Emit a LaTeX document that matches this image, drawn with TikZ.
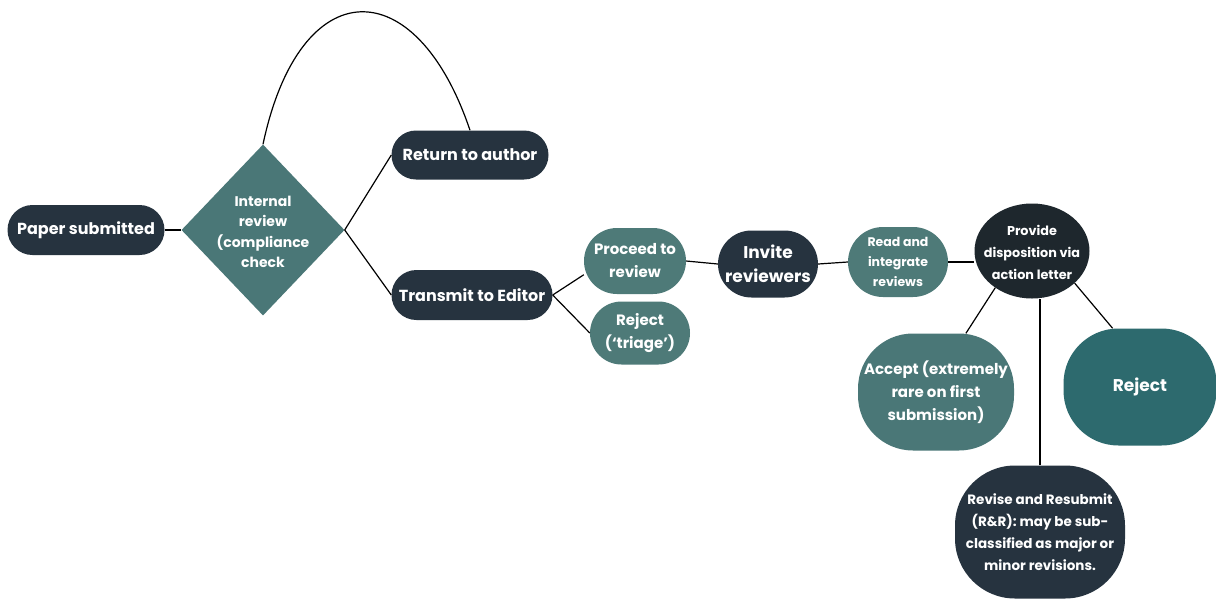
\documentclass[tikz,border=0pt]{standalone}
\usepackage{fontspec}
\setmainfont{Poppins}
\usetikzlibrary{shapes.geometric}
\definecolor{navy}{HTML}{26333F}
\definecolor{tealA}{HTML}{4A7777}
\definecolor{tealB}{HTML}{4E7A78}
\definecolor{tealC}{HTML}{2D6A6E}
\definecolor{darkc}{HTML}{1E272D}
\newcommand{\myfs}[2]{\fontsize{#1}{#2}\selectfont\bfseries}
\begin{document}
\begin{tikzpicture}[x=1pt,y=-1pt,
  pill/.style n args={3}{rectangle, rounded corners=#3, minimum width=#1, minimum height=#2, inner sep=0pt, align=center, text=white},
  lbl/.style={align=center, text=white, inner sep=0pt},
  conn/.style={draw=black, line width=1.2pt}]
\useasboundingbox (0,0) rectangle (1216,598);
\fill[white] (0,0) rectangle (1216,598);
% nodes
\node[pill={157}{50}{25}, fill=navy, font=\myfs{16}{20}] (ps) at (86,230) {Paper submitted};
\node[diamond, fill=tealA, minimum width=163, minimum height=171, inner sep=0pt] (dia) at (263,230) {};
\node[lbl, font=\myfs{14}{20.5}] (diat) at (263,232) {Internal\\review\\(compliance\\check};
\node[pill={157}{49}{24.5}, fill=navy, font=\myfs{16}{20}] (ret) at (470,155) {Return to author};
\node[pill={161}{50}{25}, fill=navy, font=\myfs{16}{20}] (tr) at (472,295) {Transmit to Editor};
\node[pill={102}{66}{33}, fill=tealB, font=\myfs{15}{23}] (pro) at (635,261) {Proceed to\\review};
\node[pill={100}{63}{31.5}, fill=tealB, font=\myfs{15}{23}] (rej) at (640,333) {Reject\\(`triage')};
\node[pill={100}{67}{33.5}, fill=navy, font=\myfs{17}{24}] (inv) at (768,264) {Invite\\reviewers};
\node[pill={100}{70}{35}, fill=tealB, font=\myfs{12.5}{20}] (rd) at (898,262) {Read and\\integrate\\reviews};
\node[ellipse, fill=darkc, minimum width=115, minimum height=95, inner sep=0pt] (pd) at (1032,251) {};
\node[lbl, font=\myfs{12.8}{22}] (pdt) at (1032,252) {Provide\\disposition via\\action letter};
\node[pill={156}{117}{55}, fill=tealA, font=\myfs{15}{23}] (acc) at (936,392) {Accept (extremely\\rare on first\\submission)};
\node[pill={153}{117}{55}, fill=tealC, font=\myfs{17}{22}] (rb) at (1140,387) {Reject};
\node[pill={170}{133}{60}, fill=navy, font=\myfs{13.5}{22}] (rr) at (1040,532) {Revise and Resubmit\\(R\&R): may be sub-\\classified as major or\\minor revisions.};
% connectors
\draw[conn] (ps.east) -- (dia.west);
\draw[conn] (dia.east) -- (ret.west);
\draw[conn] (dia.east) -- (tr.west);
\draw[conn] (dia.north) .. controls (300,-30) and (416,-30) .. (ret.north);
\draw[conn] (tr.east) -- (pro.195);
\draw[conn] (tr.east) -- (rej.west);
\draw[conn] (pro.east) -- (inv.west);
\draw[conn] (inv.east) -- (rd.west);
\draw[conn] (rd.east) -- (rd.east -| pd.west);
\draw[conn] (pd.225) -- (acc.63);
\draw[conn] (pd.-37) -- (rb.115);
\draw[conn] (rr.north) -- (rr.north |- pd.south);
\end{tikzpicture}
\end{document}
